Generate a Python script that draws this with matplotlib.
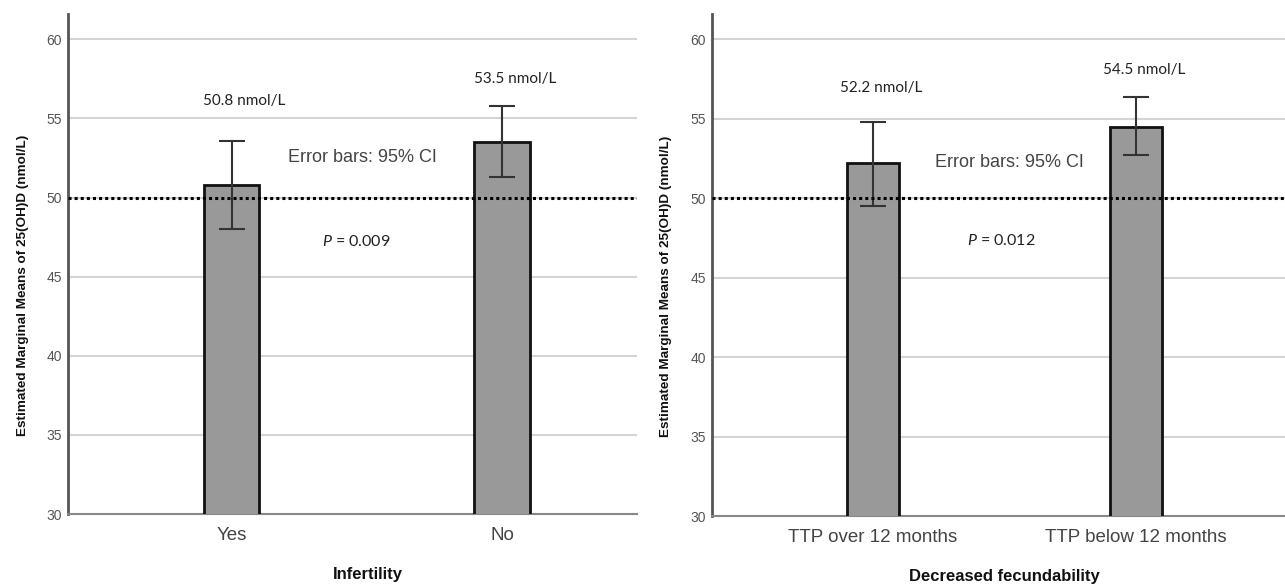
import matplotlib
matplotlib.use("Agg")
import matplotlib.pyplot as plt
from matplotlib import font_manager as fm

# ---- data ----
inf_categories = ["Yes", "No"]
inf_means = [50.8, 53.5]
inf_ci_low = [48.0, 51.3]
inf_ci_high = [53.6, 55.8]
inf_labels = ["50.8 nmol/L", "53.5 nmol/L"]
inf_p = "0.009"

fec_categories = ["TTP over 12 months", "TTP below 12 months"]
fec_means = [52.2, 54.5]
fec_ci_low = [49.5, 52.7]
fec_ci_high = [54.8, 56.4]
fec_labels = ["52.2 nmol/L", "54.5 nmol/L"]
fec_p = "0.012"

yticks = [30, 35, 40, 45, 50, 55, 60]
threshold = 50
ylabel = "Estimated Marginal Means of 25(OH)D (nmol/L)"

names = {f.name for f in fm.fontManager.ttflist}
narrow = "Liberation Sans Narrow" if "Liberation Sans Narrow" in names else "Liberation Sans"
arial = "Liberation Sans"
cal = "Lato" if "Lato" in names else "DejaVu Sans"

plt.rcParams["mathtext.fontset"] = "custom"
plt.rcParams["mathtext.it"] = cal + ":italic"
plt.rcParams["mathtext.rm"] = cal

fig = plt.figure(figsize=(12.85, 5.84), dpi=100)


def panel(rect, cats, means, lo, hi, labels, p, xlabel, xlim, label_xy, err_pos, p_pos, bw, xlab_x):
    ax = fig.add_axes(rect)
    x = list(range(len(cats)))
    ax.set_ylim(30, 61.6)
    ax.set_xlim(*xlim)
    ax.set_yticks(yticks)
    ax.grid(axis="y", color="#d4d4d4", lw=1.5)
    ax.set_axisbelow(True)
    ax.bar(x, means, width=bw, color="#999999", edgecolor="#111111", lw=2, zorder=3)
    yerr = [[m - l for m, l in zip(means, lo)], [h - m for m, h in zip(means, hi)]]
    ax.errorbar(x, means, yerr=yerr, fmt="none", ecolor="#333333", elinewidth=1.5,
                capsize=9.5, capthick=1.5, zorder=4)
    ax.axhline(threshold, color="black", lw=2.2, ls=(0, (1, 1)), zorder=5)
    for lab, (lx, ly) in zip(labels, label_xy):
        ax.text(lx, ly, lab, ha="center", va="center", fontsize=11, family=cal, color="#222222")
    ax.text(err_pos[0], err_pos[1], "Error bars: 95% CI", ha="center", va="center",
            fontsize=13, family=arial, color="#444444")
    ax.text(p_pos[0], p_pos[1], r"$\mathit{P}$ = " + p, ha="center", va="center",
            fontsize=11.5, family=cal, color="#222222")
    ax.set_xticks(x)
    ax.set_xticklabels(cats, fontsize=13.5, family=arial, color="#444444")
    ax.tick_params(axis="both", length=0)
    ax.tick_params(axis="x", pad=9.5)
    ax.tick_params(axis="y", pad=4.5)
    for t in ax.get_yticklabels():
        t.set_fontsize(10)
        t.set_family(arial)
        t.set_color("#555555")
    ax.set_xlabel(xlabel, fontsize=12, family=arial, fontweight="bold", color="#111111")
    ax.xaxis.set_label_coords(xlab_x, -0.105)
    ax.set_ylabel(ylabel, fontsize=9.7, family=narrow, fontweight="bold", color="#111111")
    ax.yaxis.set_label_coords(-0.069, 0.458)
    for s in ["top", "right"]:
        ax.spines[s].set_visible(False)
    ax.spines["left"].set_color("#555555")
    ax.spines["left"].set_linewidth(2)
    ax.spines["bottom"].set_color("#888888")
    ax.spines["bottom"].set_linewidth(1.5)
    return ax


panel([68 / 1285, 1 - 514 / 584, (637 - 68) / 1285, 500 / 584],
      inf_categories, inf_means, inf_ci_low, inf_ci_high, inf_labels, inf_p,
      "Infertility", (-0.607, 1.5), [(0.046, 56.1), (1.05, 57.5)],
      (0.485, 52.53), (0.46, 47.2), 0.204, 0.527)

panel([712 / 1285, 1 - 516 / 584, (1285 - 712) / 1285, 502 / 584],
      fec_categories, fec_means, fec_ci_low, fec_ci_high, fec_labels, fec_p,
      "Decreased fecundability", (-0.612, 1.567), [(0.03, 56.93), (1.03, 58.07)],
      (0.52, 52.27), (0.487, 47.35), 0.2, 0.511)

fig.savefig("out.png", dpi=100)
